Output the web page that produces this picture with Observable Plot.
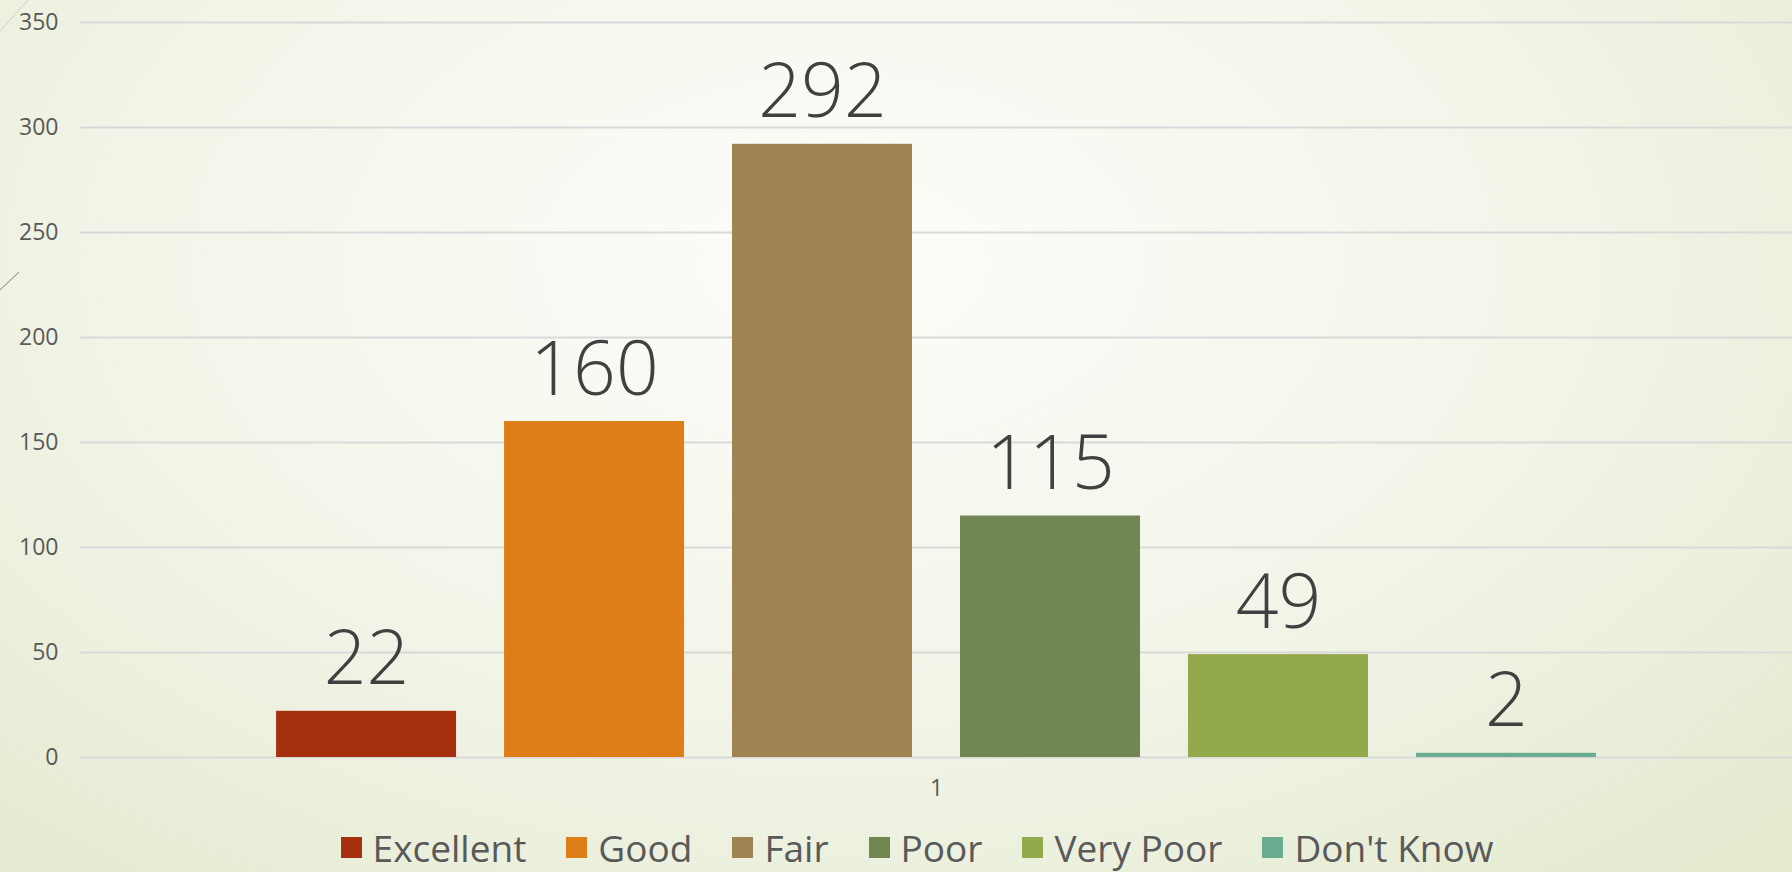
<!DOCTYPE html>
<html>
<head>
<meta charset="utf-8">
<script src="https://cdn.jsdelivr.net/npm/d3@7"></script>
<script src="https://cdn.jsdelivr.net/npm/@observablehq/plot@0.6"></script>
<style>
  html, body { margin: 0; padding: 0; }
  body {
    width: 1792px; height: 872px; overflow: hidden; position: relative;
    background: radial-gradient(ellipse 75% 95% at 47% 30%, #fcfdf9 0%, #f6f8ef 35%, #edf1e0 70%, #e3eacd 100%);
    font-family: "Open Sans", "DejaVu Sans", sans-serif;
  }
  #deco { position: absolute; left: 0; top: 0; }
  #chart { position: absolute; left: 0; top: 0; }
  #legend { position: absolute; left: 0; top: 822px; width: 1792px; display: flex; justify-content: center; padding-left: 82px; box-sizing: border-box; }
  .lg-swatch { margin-right: 40px !important; }
  .lg-swatch svg { margin-right: 11px !important; }
</style>
</head>
<body>
<svg id="deco" width="80" height="320">
  <line x1="0" y1="31" x2="28" y2="0" stroke="#cfcfbf" stroke-width="1"/>
  <line x1="0" y1="290" x2="19" y2="272" stroke="#8c7c5c" stroke-width="1"/>
</svg>
<div id="chart"></div>
<div id="legend"></div>
<script>
const categories = ["Excellent", "Good", "Fair", "Poor", "Very Poor", "Don't Know"];
const values = [22, 160, 292, 115, 49, 2];
const colors = ["#A5300F", "#DE7E18", "#9F8351", "#728653", "#92AA4C", "#6AAC91"];
const yTicks = [0, 50, 100, 150, 200, 250, 300, 350];
const groupLabel = ["1"];

const data = categories.map((c, i) => ({category: c, value: values[i]}));

const chart = Plot.plot({
  width: 1792,
  height: 815,
  marginLeft: 80,
  marginRight: 0,
  marginTop: 22,
  marginBottom: 58,
  style: {background: "transparent", fontFamily: "'Open Sans', sans-serif", fontSize: "23px", color: "#595959"},
  x: {type: "band", domain: categories, paddingInner: 0.2105, paddingOuter: 0.86, round: false, axis: null},
  y: {domain: [0, 350], ticks: yTicks, tickSize: 0, tickPadding: 22, label: null, tickFormat: d => String(d)},
  color: {domain: categories, range: colors},
  marks: [
    Plot.ruleY(yTicks, {stroke: "#d9d9d9", strokeWidth: 2}),
    Plot.barY(data, {x: "category", y: "value", fill: "category"}),
    Plot.text(data, {x: "category", y: "value", text: d => String(d.value), lineAnchor: "bottom", dy: -27, fontSize: 75, fill: "#404040", fontWeight: 300}),
    Plot.text(groupLabel, {text: d => d, frameAnchor: "bottom", lineAnchor: "middle", dy: 31, fontSize: 23, fill: "#595959"})
  ]
});
document.getElementById("chart").appendChild(chart);

const legend = Plot.legend({
  color: {type: "ordinal", domain: categories, range: colors},
  swatchSize: 21,
  className: "lg",
  style: {fontSize: "37px", color: "#595959", fontFamily: "'Open Sans', sans-serif", background: "transparent"}
});
document.getElementById("legend").appendChild(legend);
</script>
</body>
</html>
